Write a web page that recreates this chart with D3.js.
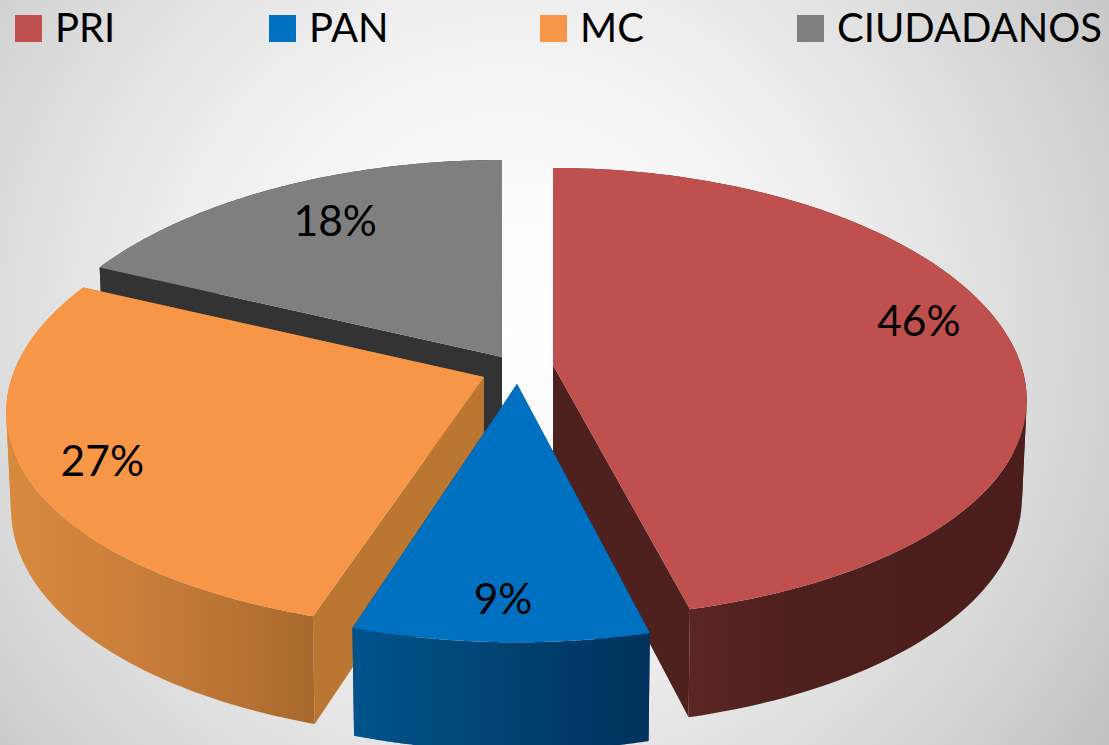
<!DOCTYPE html>
<html><head><meta charset="utf-8">
<script src="https://cdn.jsdelivr.net/npm/d3@7"></script>
<style>html,body{margin:0;padding:0;overflow:hidden;background:#fff}svg{display:block}text{font-family:Lato,"Open Sans",sans-serif;fill:#000}</style>
</head><body>
<svg id="c" width="1109" height="745"></svg>
<script>
// data
const categories = ["PRI","PAN","MC","CIUDADANOS"];
const shares = [46,9,27,18];
const labels = ["46%","9%","27%","18%"];
const topColors = ["#c0504d","#0070c0","#f79646","#7f7f7f"];
// layout
const W=1109,H=745;
const sliceOriginX=[553,517,484,502], sliceOriginY=[365,384,377,357];
const sliceRX=[468,454,472,474], sliceRY=[221.6,226,221.6,221.6];
const wallStops=[
 [[0,"#4b1e1d"],[.7,"#4e201e"],[1,"#5a2623"]],
 [[0,"#00538c"],[1,"#00325a"]],
 [[0,"#d88a3e"],[.55,"#c47a38"],[1,"#a9682c"]],
 [[0,"#333333"],[1,"#333333"]]
];
const cutColors=["#4e201e","#003a66","#bb7632","#333333"];
const legendSwatchX=[15,269,540,797];
const labelRadius=[.832,.85,.845,.769], labelNudge=[-7,0,-2,2.1];
const PERSP_X=.155,PERSP_Y=.125,DEPTH=95,SHRINK=.99;
const drawOrder=[3,0,2,1];

const svg=d3.select("#c");
const defs=svg.append("defs");
const g=defs.append("radialGradient").attr("id","bg").attr("gradientUnits","userSpaceOnUse")
 .attr("cx",510).attr("cy",330).attr("r",760);
[[0,"#ffffff"],[.18,"#fbfbfb"],[.45,"#eeeeee"],[.75,"#d6d6d6"],[1,"#bdbdbd"]].forEach(([o,c])=>g.append("stop").attr("offset",o).attr("stop-color",c));
svg.append("rect").attr("width",W).attr("height",H).attr("fill","url(#bg)");

const arcs=d3.pie().sort(null).startAngle(0).endAngle(2*Math.PI)(shares);
function project(i,a,r,drop){
  const u=r*Math.sin(a),v=r*Math.cos(a);
  const sx=1/(1+PERSP_X*v),sy=1/(1+PERSP_Y*v);
  const k=drop?SHRINK:1;
  return [sliceOriginX[i]+sliceRX[i]*u*sx*k, sliceOriginY[i]-sliceRY[i]*v*sy+(drop?DEPTH*sy:0)];
}
const line=d3.line();
drawOrder.forEach(i=>{
  const d=arcs[i];
  const gp=svg.append("g");
  const n=120;
  const angs=d3.range(n+1).map(t=>d.startAngle+(d.endAngle-d.startAngle)*t/n);
  const topEdge=angs.map(a=>project(i,a,1,false));
  const botEdge=angs.map(a=>project(i,a,1,true));
  const centerTop=project(i,0,0,false),centerBot=project(i,0,0,true);
  [d.startAngle,d.endAngle].forEach(a=>{
    gp.append("path").attr("d",line([centerTop,project(i,a,1,false),project(i,a,1,true),centerBot])+"Z").attr("fill",cutColors[i]);
  });
  const lower=angs.filter(a=>Math.cos(a)<.15).map(a=>project(i,a,1,false)[0]);
  const x0=d3.min(lower),x1=d3.max(lower);
  const lg=defs.append("linearGradient").attr("id","wall"+i).attr("gradientUnits","userSpaceOnUse")
    .attr("x1",i===0?x1:x0).attr("x2",i===0?x0:x1).attr("y1",0).attr("y2",0);
  wallStops[i].forEach(([o,c])=>lg.append("stop").attr("offset",o).attr("stop-color",c));
  // outer wall: one polygon per run of same-facing quads, so the folds at the silhouette stay filled
  const facing=d3.range(n).map(t=>Math.sign(d3.polygonArea([topEdge[t],topEdge[t+1],botEdge[t+1],botEdge[t]])));
  let start=0;
  d3.range(1,n+1).forEach(t=>{
    if(t===n||facing[t]!==facing[start]){
      const poly=[...topEdge.slice(start,t+1),...botEdge.slice(start,t+1).reverse()];
      gp.append("path").attr("d",line(poly)+"Z").attr("fill","url(#wall"+i+")");
      start=t;
    }
  });
  gp.append("path").attr("d",line([centerTop,...topEdge])+"Z").attr("fill",topColors[i]);
});
// labels
arcs.forEach((d,i)=>{
  const a=(d.startAngle+d.endAngle)/2+labelNudge[i]*Math.PI/180;
  const p=project(i,a,labelRadius[i],false);
  svg.append("text").attr("x",p[0]).attr("y",p[1]+15).attr("text-anchor","middle").attr("font-size",42.5).text(labels[i]);
});
// legend
categories.forEach((c,i)=>{
  svg.append("rect").attr("x",legendSwatchX[i]).attr("y",15).attr("width",27).attr("height",27).attr("fill",topColors[i]);
  svg.append("text").attr("x",legendSwatchX[i]+40).attr("y",42).attr("font-size",40).text(c);
});
</script>
</body></html>
